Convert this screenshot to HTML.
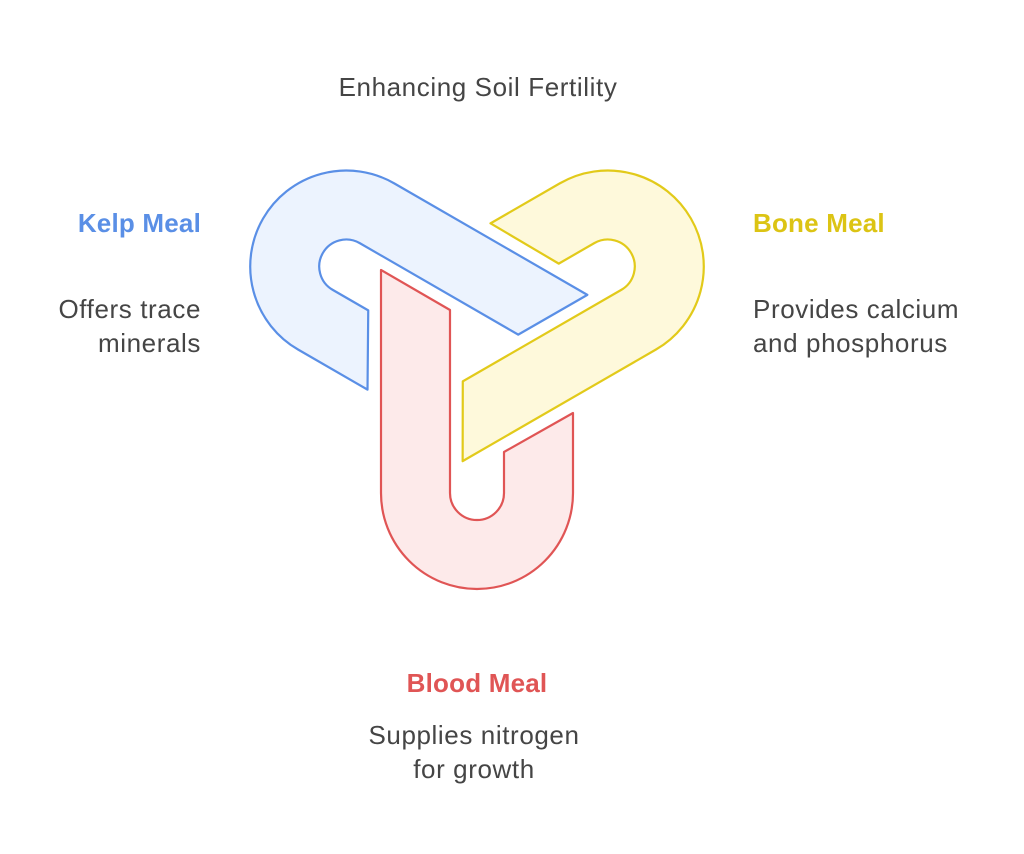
<!DOCTYPE html>
<html><head><meta charset="utf-8"><style>
html,body{margin:0;padding:0;background:#fff;}
body{width:1024px;height:854px;position:relative;overflow:hidden;font-family:"Liberation Sans",Arial,sans-serif;}
svg{position:absolute;left:0;top:0;}
</style></head><body>
<svg width="1024" height="854" viewBox="0 0 1024 854">
<defs>
<path id="seg" d="M381,270 L450,310 L450,493 A27,27 0 0 0 504,493 L504,452 L573,413 L573,493 A96,96 0 0 1 381,493 Z"/>
</defs>
<use href="#seg" transform="rotate(120 477 342)" fill="#ecf3fe" stroke="#5a8fe6" stroke-width="2.2" stroke-linejoin="round"/>
<use href="#seg" transform="rotate(240 477 342)" fill="#fef9db" stroke="#e2ca1a" stroke-width="2.2" stroke-linejoin="round"/>
<use href="#seg" fill="#fdeaea" stroke="#e05555" stroke-width="2.2" stroke-linejoin="round"/>
<g font-family="Liberation Sans, Arial, sans-serif" font-size="26" letter-spacing="0.6">
<text x="478" y="96" text-anchor="middle" fill="#454545">Enhancing Soil Fertility</text>
<text x="201" y="232" text-anchor="end" fill="#5a8fe6" font-weight="bold" letter-spacing="0.2">Kelp Meal</text>
<text x="201" y="318" text-anchor="end" fill="#454545">Offers trace</text>
<text x="201" y="352" text-anchor="end" fill="#454545">minerals</text>
<text x="753" y="232" fill="#dcc414" font-weight="bold" letter-spacing="0.2">Bone Meal</text>
<text x="753" y="318" fill="#454545">Provides calcium</text>
<text x="753" y="352" fill="#454545">and phosphorus</text>
<text x="477" y="692" text-anchor="middle" fill="#e05555" font-weight="bold" letter-spacing="0.2">Blood Meal</text>
<text x="474" y="744" text-anchor="middle" fill="#454545">Supplies nitrogen</text>
<text x="474" y="778" text-anchor="middle" fill="#454545">for growth</text>
</g>
</svg>
</body></html>
